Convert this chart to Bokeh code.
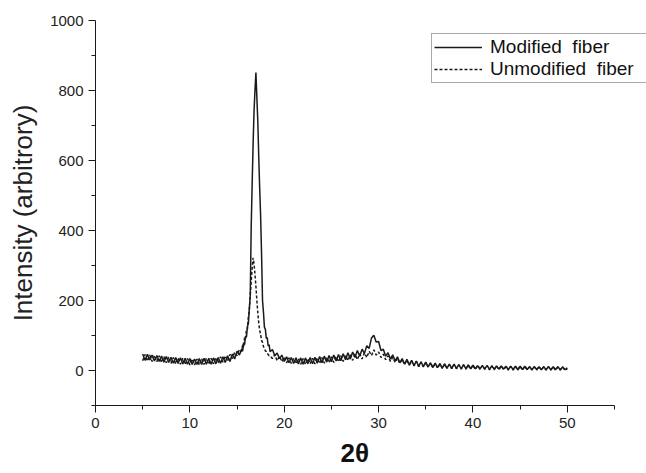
from bokeh.plotting import figure
from bokeh.models import Range1d, Legend, LegendItem, Title, FixedTicker
from bokeh.embed import file_html
from bokeh.resources import INLINE

# 2-theta sampling positions (degrees)
two_theta = [
    5.0, 5.25, 5.5, 5.75, 6.0, 6.25, 6.5, 6.75, 7.0, 7.25, 7.5, 7.75,
    8.0, 8.25, 8.5, 8.75, 9.0, 9.25, 9.5, 9.75, 10.0, 10.25, 10.5, 10.75,
    11.0, 11.25, 11.5, 11.75, 12.0, 12.25, 12.5, 12.75, 13.0, 13.25, 13.5, 13.75,
    14.0, 14.25, 14.5, 14.75, 15.0, 15.25,
    15.5, 15.6, 15.7, 15.8, 15.9,
    16.0, 16.1, 16.2, 16.3, 16.4, 16.5, 16.6, 16.7, 16.8, 16.9,
    17.0, 17.1, 17.2, 17.3, 17.4, 17.5, 17.6, 17.7, 17.8, 17.9,
    18.0, 18.1, 18.2, 18.3, 18.4, 18.5,
    18.75,
    19.0, 19.25, 19.5, 19.75, 20.0, 20.25, 20.5, 20.75, 21.0, 21.25, 21.5, 21.75,
    22.0, 22.25, 22.5, 22.75, 23.0, 23.25, 23.5, 23.75, 24.0, 24.25, 24.5, 24.75,
    25.0, 25.25, 25.5, 25.75, 26.0, 26.25, 26.5, 26.75, 27.0, 27.25, 27.5, 27.75,
    28.0, 28.25, 28.5, 28.75, 29.0, 29.25, 29.5, 29.75, 30.0, 30.25, 30.5, 30.75,
    31.0, 31.25, 31.5, 31.75, 32.0, 32.25, 32.5, 32.75, 33.0, 33.25, 33.5, 33.75,
    34.0, 34.25, 34.5, 34.75, 35.0, 35.25, 35.5, 35.75, 36.0, 36.25, 36.5, 36.75,
    37.0, 37.25, 37.5, 37.75, 38.0, 38.25, 38.5, 38.75, 39.0, 39.25, 39.5, 39.75,
    40.0, 40.25, 40.5, 40.75, 41.0, 41.25, 41.5, 41.75, 42.0, 42.25, 42.5, 42.75,
    43.0, 43.25, 43.5, 43.75, 44.0, 44.25, 44.5, 44.75, 45.0, 45.25, 45.5, 45.75,
    46.0, 46.25, 46.5, 46.75, 47.0, 47.25, 47.5, 47.75, 48.0, 48.25, 48.5, 48.75,
    49.0, 49.25, 49.5, 49.75, 50.0,
]

# Modified fiber intensity (solid line)
modified = [
    47, 29, 46, 30, 44, 27, 43, 26, 41, 24, 40, 23,
    38, 21, 37, 20, 36, 19, 35, 18, 34, 17, 33, 17,
    34, 17, 35, 18, 35, 18, 36, 19, 37, 21, 39, 23,
    42, 26, 47, 33, 55, 44,
    62, 56, 80, 74, 98,
    96, 126, 134, 176, 215, 410, 530, 645, 740, 800,
    851, 780, 712, 610, 520, 440, 330, 200, 166, 124,
    118, 92, 94, 70, 74, 54,
    60,
    42, 50, 34, 44, 26, 39, 22, 37, 20, 36, 19, 36,
    18, 36, 19, 37, 19, 38, 21, 40, 22, 41, 24, 43,
    25, 44, 27, 46, 28, 48, 31, 51, 33, 53, 37, 57,
    41, 61, 49, 71, 63, 93, 101, 81, 83, 57, 61, 41,
    51, 33, 45, 27, 39, 22, 34, 18, 32, 16, 29, 14,
    27, 12, 25, 11, 24, 10, 22, 9, 21, 8, 20, 7,
    19, 7, 18, 6, 18, 6, 17, 5, 17, 5, 16, 5,
    15, 5, 14, 5, 14, 5, 14, 4, 13, 4, 13, 4,
    13, 4, 12, 3, 12, 3, 12, 3, 12, 3, 12, 3,
    11, 3, 11, 3, 11, 2, 11, 2, 11, 2, 11, 2,
    11, 2, 10, 2, 8,
]

# Unmodified fiber intensity (dashed line)
unmodified = [
    28, 46, 27, 44, 26, 43, 25, 42, 23, 40, 22, 39,
    20, 37, 19, 36, 18, 35, 17, 34, 16, 33, 16, 33,
    16, 34, 17, 35, 18, 35, 19, 37, 21, 39, 24, 42,
    27, 46, 34, 52, 43, 60,
    54, 76, 66, 94, 90,
    118, 118, 154, 172, 215, 255, 292, 322, 305, 275,
    240, 200, 165, 135, 115, 102, 86, 80, 68, 64,
    56, 54, 48, 46, 42, 42,
    34,
    45, 28, 41, 25, 38, 22, 36, 20, 35, 19, 34, 18,
    34, 18, 34, 19, 35, 19, 36, 20, 37, 21, 38, 22,
    39, 23, 40, 25, 42, 26, 43, 28, 45, 29, 47, 31,
    48, 33, 51, 37, 55, 43, 59, 44, 53, 37, 47, 31,
    42, 26, 38, 23, 35, 20, 32, 17, 30, 15, 28, 13,
    26, 11, 24, 10, 23, 9, 21, 8, 20, 7, 19, 6,
    18, 6, 17, 5, 17, 5, 16, 4, 16, 4, 15, 4,
    15, 3, 14, 3, 14, 3, 14, 2, 13, 2, 13, 2,
    13, 2, 12, 1, 12, 1, 12, 1, 12, 1, 12, 1,
    11, 1, 11, 1, 11, 1, 11, 1, 11, 1, 10, 1,
    10, 1, 10, 1, 5,
]

x_major_ticks = [0, 10, 20, 30, 40, 50]
x_minor_ticks = [5, 15, 25, 35, 45, 55]
y_major_ticks = [0, 200, 400, 600, 800, 1000]
y_minor_ticks = [-100, 100, 300, 500, 700, 900]

FONT = "Liberation Sans"
INK = "#1a1a1a"

W, H = 646, 473
FRAME_L, FRAME_T, FRAME_B = 95, 20, 405
AXIS_END_PX = 614          # pixel where x = 55 sits in the reference
x_end = 55 * (W - FRAME_L) / (AXIS_END_PX - FRAME_L)

p = figure(width=W, height=H, output_backend="svg", toolbar_location=None,
           x_range=Range1d(0, x_end), y_range=Range1d(-100, 1000),
           min_border_left=FRAME_L, min_border_right=0, min_border_top=FRAME_T,
           min_border_bottom=H - FRAME_B)
p.xgrid.visible = False
p.ygrid.visible = False
p.outline_line_color = None
p.background_fill_color = "white"

p.xaxis.ticker = FixedTicker(ticks=x_major_ticks, minor_ticks=x_minor_ticks)
p.yaxis.ticker = FixedTicker(ticks=y_major_ticks, minor_ticks=y_minor_ticks)
p.xaxis.bounds = (0, 55)
for ax in (p.xaxis[0], p.yaxis[0]):
    ax.axis_line_color = INK
    ax.axis_line_width = 1
    ax.major_tick_line_color = INK
    ax.minor_tick_line_color = INK
    ax.major_tick_in = 0
    ax.major_tick_out = 7
    ax.minor_tick_in = 0
    ax.minor_tick_out = 4
    ax.major_label_text_font = FONT
    ax.major_label_text_font_size = "15px"
    ax.major_label_text_color = "#222222"
    ax.major_label_standoff = 5
p.xaxis.major_label_text_line_height = 0.9

p.yaxis.axis_label = "Intensity (arbitrory)"
p.yaxis.axis_label_text_font = FONT
p.yaxis.axis_label_text_font_size = "26px"
p.yaxis.axis_label_text_font_style = "normal"
p.yaxis.axis_label_text_color = "#222222"
p.yaxis.axis_label_standoff = 9

r_un = p.line(two_theta, unmodified, line_color=INK, line_width=1.5, line_dash="3 2")
r_mod = p.line(two_theta, modified, line_color=INK, line_width=1.5)

legend = Legend(items=[LegendItem(label="Modified  fiber", renderers=[r_mod]),
                       LegendItem(label="Unmodified  fiber", renderers=[r_un])],
                location=(336, 322))
legend.border_line_color = "#555555"
legend.border_line_width = 1
legend.background_fill_color = "white"
legend.background_fill_alpha = 1
legend.label_text_font = FONT
legend.label_text_font_size = "19px"
legend.label_text_color = "#111111"
legend.glyph_width = 48
legend.glyph_height = 20
legend.label_height = 22
legend.label_width = 154
legend.label_standoff = 8
legend.padding = 2
legend.spacing = 0
legend.margin = 0
p.add_layout(legend)

xlabel = Title(text="2θ", align="left", offset=245, standoff=11,
               vertical_align="bottom", text_line_height=0.8,
               text_font=FONT, text_font_size="26px", text_font_style="bold",
               text_color="#111111")
p.add_layout(xlabel, "below")

open("out.html", "w").write(file_html(p, INLINE))
